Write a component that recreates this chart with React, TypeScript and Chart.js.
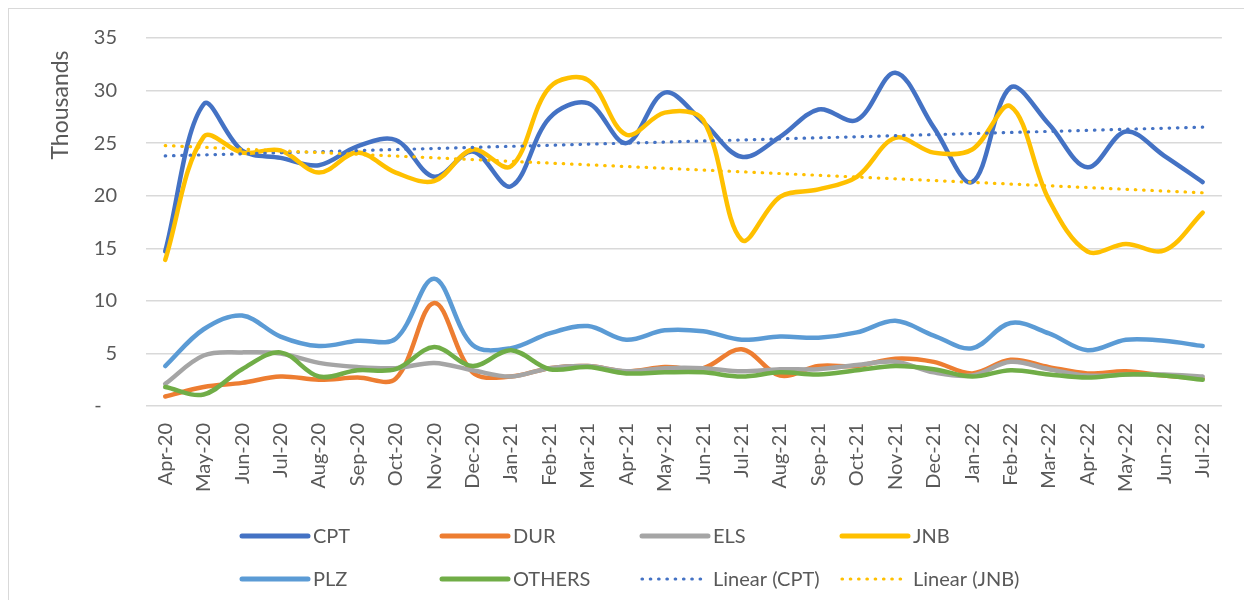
import React, { useEffect, useRef } from "react";
import { Chart, registerables } from "chart.js";

Chart.register(...registerables);

const months = [
  "Apr-20", "May-20", "Jun-20", "Jul-20", "Aug-20", "Sep-20", "Oct-20", "Nov-20", "Dec-20",
  "Jan-21", "Feb-21", "Mar-21", "Apr-21", "May-21", "Jun-21", "Jul-21", "Aug-21", "Sep-21",
  "Oct-21", "Nov-21", "Dec-21", "Jan-22", "Feb-22", "Mar-22", "Apr-22", "May-22", "Jun-22", "Jul-22",
];

// values in thousands
const CPT = [14.7, 28.7, 24.3, 23.6, 22.9, 24.7, 25.3, 21.8, 24.2, 20.9, 27.4, 28.8, 25.0, 29.8, 27.0, 23.7, 25.6, 28.2, 27.2, 31.7, 26.5, 21.3, 30.3, 26.8, 22.7, 26.1, 23.8, 21.3];
const DUR = [0.9, 1.8, 2.2, 2.8, 2.5, 2.7, 2.6, 9.8, 3.2, 2.8, 3.6, 3.8, 3.3, 3.7, 3.6, 5.4, 2.9, 3.8, 3.8, 4.5, 4.2, 3.1, 4.4, 3.7, 3.1, 3.3, 2.9, 2.6];
const ELS = [2.1, 4.8, 5.1, 5.0, 4.1, 3.7, 3.6, 4.1, 3.4, 2.8, 3.6, 3.8, 3.3, 3.6, 3.6, 3.3, 3.5, 3.5, 3.9, 4.2, 3.2, 2.9, 4.2, 3.5, 2.9, 3.0, 3.0, 2.8];
const JNB = [13.9, 25.6, 24.1, 24.3, 22.2, 24.1, 22.2, 21.4, 24.4, 22.8, 30.3, 31.0, 25.8, 27.9, 27.2, 15.8, 19.9, 20.6, 21.8, 25.5, 24.1, 24.4, 28.5, 19.6, 14.7, 15.4, 14.8, 18.4];
const PLZ = [3.8, 7.3, 8.6, 6.6, 5.7, 6.2, 6.4, 12.1, 5.8, 5.5, 6.9, 7.6, 6.3, 7.2, 7.1, 6.3, 6.6, 6.5, 7.0, 8.1, 6.7, 5.5, 7.9, 6.9, 5.3, 6.3, 6.2, 5.7];
const OTHERS = [1.8, 1.1, 3.5, 5.1, 2.8, 3.4, 3.5, 5.6, 3.8, 5.3, 3.5, 3.7, 3.1, 3.2, 3.2, 2.8, 3.2, 3.0, 3.4, 3.8, 3.5, 2.8, 3.4, 3.0, 2.7, 3.0, 2.9, 2.5];

const yTicks = [0, 5, 10, 15, 20, 25, 30, 35];
const yTitle = "Thousands";

const COLORS = {
  CPT: "#4472C4",
  DUR: "#ED7D31",
  ELS: "#A5A5A5",
  JNB: "#FFC000",
  PLZ: "#5B9BD5",
  OTHERS: "#70AD47",
};

const TEXT = "#595959";
const GRID = "#d9d9d9";
const FONT = "Lato";

function linearTrend(ys: number[]): number[] {
  const n = ys.length;
  const mx = (n - 1) / 2;
  const my = ys.reduce((a, b) => a + b, 0) / n;
  let sxy = 0;
  let sxx = 0;
  ys.forEach((y, i) => {
    sxy += (i - mx) * (y - my);
    sxx += (i - mx) * (i - mx);
  });
  const b = sxy / sxx;
  return ys.map((_, i) => my + b * (i - mx));
}

type LegendItem = { label: string; color: string; dotted: boolean };
const legendItems: LegendItem[] = [
  { label: "CPT", color: COLORS.CPT, dotted: false },
  { label: "DUR", color: COLORS.DUR, dotted: false },
  { label: "ELS", color: COLORS.ELS, dotted: false },
  { label: "JNB", color: COLORS.JNB, dotted: false },
  { label: "PLZ", color: COLORS.PLZ, dotted: false },
  { label: "OTHERS", color: COLORS.OTHERS, dotted: false },
  { label: "Linear (CPT)", color: COLORS.CPT, dotted: true },
  { label: "Linear (JNB)", color: COLORS.JNB, dotted: true },
];

const overlayPlugin = {
  id: "overlay",
  afterDraw(chart: any) {
    const ctx = chart.ctx as CanvasRenderingContext2D;
    // y-axis display unit title
    ctx.save();
    ctx.fillStyle = TEXT;
    ctx.font = `23px ${FONT}`;
    ctx.translate(59, 96);
    ctx.rotate(-Math.PI / 2);
    ctx.textAlign = "center";
    ctx.textBaseline = "alphabetic";
    ctx.fillText(yTitle, 0, 0);
    ctx.restore();

    // legend
    const colX = [231, 431, 631, 831];
    const rowY = [527, 570];
    legendItems.forEach((it, idx) => {
      const col = idx % 4;
      const row = Math.floor(idx / 4);
      const x = colX[col];
      const y = rowY[row];
      ctx.save();
      ctx.strokeStyle = it.color;
      ctx.lineCap = "round";
      if (it.dotted) {
        ctx.lineWidth = 3.2;
        ctx.setLineDash([0.5, 7.8]);
      } else {
        ctx.lineWidth = 5;
      }
      ctx.beginPath();
      ctx.moveTo(x + 2, y);
      ctx.lineTo(x + 68, y);
      ctx.stroke();
      ctx.setLineDash([]);
      ctx.fillStyle = TEXT;
      ctx.font = `20px ${FONT}`;
      ctx.textAlign = "left";
      ctx.textBaseline = "middle";
      ctx.fillText(it.label, x + 73, y + 1);
      ctx.restore();
    });
  },
};

export default function App() {
  const ref = useRef<HTMLCanvasElement | null>(null);

  useEffect(() => {
    if (!ref.current) return;
    Chart.defaults.font.family = FONT;
    const series: [string, number[], string][] = [
      ["CPT", CPT, COLORS.CPT],
      ["DUR", DUR, COLORS.DUR],
      ["ELS", ELS, COLORS.ELS],
      ["JNB", JNB, COLORS.JNB],
      ["PLZ", PLZ, COLORS.PLZ],
      ["OTHERS", OTHERS, COLORS.OTHERS],
    ];
    const datasets: any[] = series.map(([label, data, color]) => ({
      label,
      data,
      borderColor: color,
      backgroundColor: color,
      borderWidth: 4.5,
      tension: 0.35,
      pointRadius: 0,
      pointHoverRadius: 0,
      borderCapStyle: "round",
      borderJoinStyle: "round",
      fill: false,
    }));
    datasets.push({
      label: "Linear (CPT)",
      data: linearTrend(CPT),
      borderColor: COLORS.CPT,
      borderWidth: 3.2,
      borderDash: [0.5, 7.8],
      borderCapStyle: "round",
      tension: 0,
      pointRadius: 0,
      fill: false,
    });
    datasets.push({
      label: "Linear (JNB)",
      data: linearTrend(JNB),
      borderColor: COLORS.JNB,
      borderWidth: 3.2,
      borderDash: [0.5, 7.8],
      borderCapStyle: "round",
      tension: 0,
      pointRadius: 0,
      fill: false,
    });
    const total = datasets.length;
    datasets.forEach((d, i) => (d.order = total - i));

    const chart = new Chart(ref.current, {
      type: "line",
      data: { labels: months, datasets },
      options: {
        responsive: false,
        animation: false,
        layout: { padding: { left: 0, right: 17, top: 29, bottom: 104 } },
        plugins: {
          legend: { display: false },
          tooltip: { enabled: false },
          title: { display: false },
        },
        scales: {
          x: {
            offset: true,
            grid: { display: false, drawTicks: false },
            border: { display: false },
            ticks: {
              autoSkip: false,
              minRotation: 90,
              maxRotation: 90,
              padding: 17,
              color: TEXT,
              font: { family: FONT, size: 20 },
            },
            afterFit: (scale: any) => {
              scale.height = 90;
            },
          },
          y: {
            min: yTicks[0],
            max: yTicks[yTicks.length - 1],
            grid: { color: GRID, lineWidth: 1.5, drawTicks: false },
            border: { display: false },
            afterBuildTicks: (scale: any) => {
              scale.ticks = yTicks.map((v) => ({ value: v }));
            },
            ticks: {
              padding: 29,
              color: TEXT,
              font: { family: FONT, size: 20 },
              callback: (v: any) => (Number(v) === 0 ? "-   " : String(v)),
            },
            afterFit: (scale: any) => {
              scale.width = 137;
              scale.paddingTop = 0;
              scale.paddingBottom = 0;
            },
          },
        },
      },
      plugins: [overlayPlugin],
    });
    return () => chart.destroy();
  }, []);

  return (
    <div
      style={{
        width: 1236,
        height: 592,
        borderLeft: `1px solid ${GRID}`,
        borderTop: `1px solid ${GRID}`,
        boxSizing: "border-box",
        background: "#fff",
        overflow: "hidden",
      }}
    >
      <canvas ref={ref} width={1235} height={591} style={{ display: "block", width: 1235, height: 591 }} />
    </div>
  );
}
